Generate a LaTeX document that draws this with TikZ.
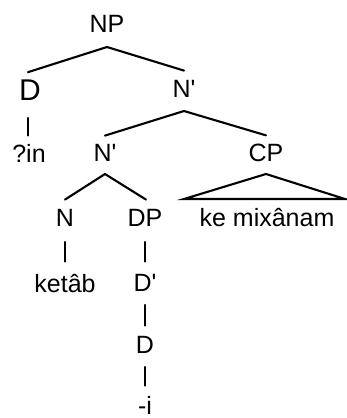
\documentclass[tikz,border=0pt]{standalone}
\usepackage{fontspec}
\setmainfont{Liberation Sans}
\begin{document}
\begin{tikzpicture}[x=1pt,y=-1pt,
  lab/.style={inner sep=0pt,anchor=base,font=\fontsize{25}{25}\selectfont},
  big/.style={inner sep=0pt,anchor=base,font=\fontsize{30}{30}\selectfont},
  br/.style={line width=2.1pt,line cap=round}]
\useasboundingbox (0,0) rectangle (347,418);
% nodes
\node[lab] (np) at (107,32) {NP};
\node[big] (d1) at (30,100) {D};
\node[lab] (nb1) at (184,97) {N\textquotesingle};
\node[lab] (in) at (29,162) {?in};
\node[lab] (nb2) at (105,161) {N\textquotesingle};
\node[lab] (cp) at (266,161) {CP};
\node[lab] (n) at (65,226) {N};
\node[lab] (dp) at (145,226) {DP};
\node[lab] (ke) at (267,226) {ke mixânam};
\node[lab] (ket) at (65,292) {ketâb};
\node[lab] (db) at (145,291) {D\textquotesingle};
\node[lab] (d2) at (145,353) {D};
\node[lab] (i) at (145,414) {-i};
% connectors
\draw[br] ([yshift=-15pt]np.base) -- ([xshift=-2pt,yshift=7pt]d1.north);
\draw[br] ([yshift=-15pt]np.base) -- ([yshift=9pt]nb1.north);
\draw[br] ([xshift=-2pt,yshift=-18pt]d1.base) -- ([xshift=-1pt,yshift=8pt]in.north);
\draw[br] ([yshift=-14pt]nb1.base) -- ([yshift=8pt]nb2.north);
\draw[br] ([yshift=-14pt]nb1.base) -- ([yshift=8pt]cp.north);
\draw[br] ([yshift=-13pt]nb2.base) -- ([yshift=9pt]n.north);
\draw[br] ([yshift=-13pt]nb2.base) -- ([xshift=1pt,yshift=9pt]dp.north);
\coordinate (apex) at ([yshift=-13pt]cp.base);
\coordinate (bl) at ([xshift=-82pt,yshift=-38pt]cp.base);
\coordinate (brr) at ([xshift=79pt,yshift=-38pt]cp.base);
\draw[br,line join=miter] (apex) -- (bl) -- (brr) -- cycle;
\draw[br] ([yshift=-16pt]n.base) -- ([yshift=12pt]ket.north);
\draw[br] ([yshift=-16pt]dp.base) -- ([yshift=12pt]db.north);
\draw[br] ([yshift=-14pt]db.base) -- ([yshift=10pt]d2.north);
\draw[br] ([yshift=-14pt]d2.base) -- ([yshift=10pt]i.north);
\end{tikzpicture}
\end{document}
